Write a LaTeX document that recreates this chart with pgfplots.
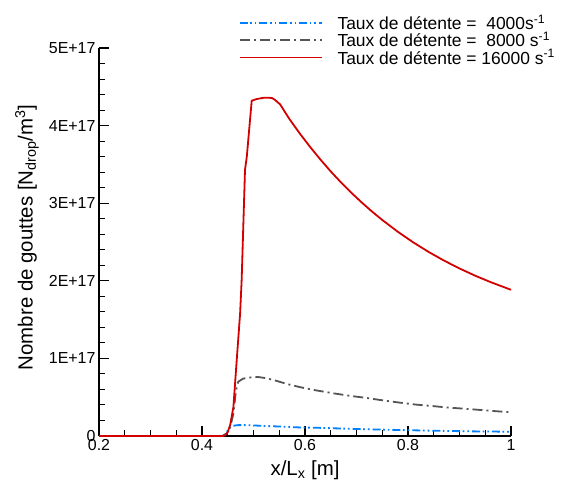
\documentclass[border=0pt]{standalone}
\usepackage{fontspec}
\setmainfont{Liberation Sans}
\usepackage{pgfplots}
\pgfplotsset{compat=1.18}
\definecolor{cblue}{RGB}{0,128,255}
\definecolor{cgray}{RGB}{85,85,85}
\definecolor{cred}{RGB}{210,0,0}
\tikzset{
  sblue/.style={draw=cblue, line width=1.8bp, dash pattern=on 8bp off 2.5bp on 1.7bp off 3bp on 1.7bp off 3bp},
  sgray/.style={draw=cgray, line width=1.8bp, dash pattern=on 10bp off 4bp on 2bp off 4bp},
  sred/.style={draw=cred, line width=1.8bp, solid}
}
\begin{document}
\begin{tikzpicture}[x=1bp,y=1bp]
\useasboundingbox (0,0) rectangle (564,486);
\begin{axis}[
  at={(99bp,50bp)}, anchor=south west,
  scale only axis, width=412bp, height=388bp,
  xmin=0.2, xmax=1, ymin=0, ymax=5,
  axis lines=left,
  axis line style={-, line width=2bp, black},
  xtick={0.2,0.4,0.6,0.8,1},
  xticklabels={0.2,0.4,0.6,0.8,1},
  ytick={0,1,2,3,4,5},
  yticklabels={0,1E+17,2E+17,3E+17,4E+17,5E+17},
  minor x tick num=3,
  minor y tick num=4,
  tick align=inside,
  major tick length=10bp,
  minor tick length=6bp,
  major tick style={line width=1.3bp, black},
  minor tick style={line width=1bp, black},
  tick label style={font=\fontsize{16}{19}\selectfont},
  /pgf/number format/assume math mode=true,
  xlabel={x/L\textsubscript{x} [m]},
  ylabel={Nombre de gouttes [N\textsubscript{drop}/m\textsuperscript{3}]},
  every axis x label/.style={at={(axis description cs:0.5,-0.088)}, anchor=center,
    font=\fontsize{20.5}{24}\selectfont},
  every axis y label/.style={at={(axis description cs:-0.175,0.512)}, anchor=center, rotate=90,
    font=\fontsize{20.5}{24}\selectfont},
  legend style={at={(1.124,1.111)}, anchor=north east, draw=none, fill=white,
    font=\fontsize{17.5}{18}\selectfont, row sep=-3pt, inner ysep=8bp, inner xsep=5bp,
    append after command={[draw=black, line width=1.2bp] (\tikzlastnode.south west) rectangle (\tikzlastnode.north east)}},
  legend cell align=left,
  clip=false,
]
\addplot[sblue, legend image code/.code={\path[draw=none, fill=none] (-4bp,0bp) -- (96bp,0bp); \draw[sblue] (0bp,0bp) -- (82bp,0bp);}] coordinates {
 (0.2,0) (0.44,0) (0.447,0.03) (0.452,0.10) (0.458,0.13) (0.47,0.14) (0.487,0.14)
 (0.52,0.13) (0.558,0.12) (0.59,0.11) (0.629,0.105) (0.7,0.09) (0.784,0.077)
 (0.85,0.068) (0.92,0.06) (1.0,0.055)
};
\addlegendentry{Taux de détente =\ \ 4000s\textsuperscript{-1}}
\addplot[sgray, legend image code/.code={\path[draw=none, fill=none] (-4bp,0bp) -- (96bp,0bp); \draw[sgray] (0bp,0bp) -- (82bp,0bp);}] coordinates {
 (0.2,0) (0.44,0) (0.448,0.03) (0.455,0.12) (0.461,0.29) (0.466,0.59) (0.4705,0.70)
 (0.48,0.74) (0.495,0.755) (0.509,0.76) (0.525,0.745) (0.545,0.71) (0.565,0.67)
 (0.59,0.63) (0.62,0.59) (0.655,0.55) (0.69,0.515) (0.72,0.49) (0.75,0.46)
 (0.784,0.43) (0.815,0.405) (0.849,0.385) (0.88,0.365) (0.914,0.35) (0.95,0.33) (1.0,0.305)
};
\addlegendentry{Taux de détente =\ \ 8000 s\textsuperscript{-1}}
\addplot[sred, legend image code/.code={\path[draw=none, fill=none] (-4bp,0bp) -- (96bp,0bp); \draw[sred] (0bp,0bp) -- (82bp,0bp);}] coordinates {
 (0.2,0) (0.44,0) (0.445,0.01) (0.45,0.05) (0.455,0.15) (0.461,0.375) (0.467,0.94)
 (0.474,1.58) (0.477,2.01) (0.4835,3.43) (0.487,3.60) (0.4965,4.32) (0.505,4.34) (0.5126,4.35)
 (0.521,4.36) (0.529,4.36) (0.536,4.355) (0.542,4.33) (0.547,4.30) (0.5515,4.275)
 (0.57,4.082) (0.59,3.897) (0.61,3.724) (0.63,3.562) (0.65,3.409) (0.67,3.267) (0.69,3.134)
 (0.71,3.010) (0.73,2.893) (0.75,2.784) (0.78,2.633) (0.81,2.496) (0.84,2.372) (0.87,2.260)
 (0.90,2.159) (0.93,2.067) (0.96,1.984) (1.0,1.884)
};
\addlegendentry{Taux de détente = 16000 s\textsuperscript{-1}\hspace{8bp}}
\end{axis}
\end{tikzpicture}
\end{document}
